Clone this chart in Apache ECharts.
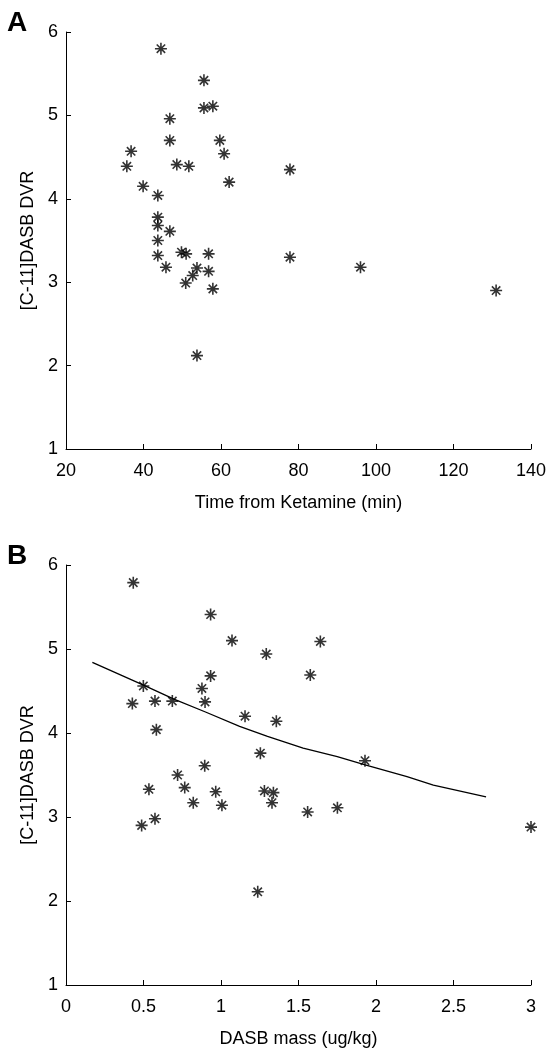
<!DOCTYPE html>
<html><head><meta charset="utf-8">
<script src="https://cdn.jsdelivr.net/npm/echarts@6/dist/echarts.min.js"></script>
<style>html,body{margin:0;padding:0;background:#fff}#c{width:549px;height:1050px}</style>
</head><body><div id="c"></div>
<script>
// Panel A: time from ketamine (min) vs DVR
const timeA = [44.5,55.6,55.6,57.9,46.8,46.8,59.7,60.8,36.8,35.7,48.6,51.7,77.8,62.1,39.9,43.7,
  43.7,43.7,46.8,43.7,43.7,45.8,49.8,51.0,56.8,77.8,53.8,52.7,56.8,50.9,57.9,53.8,96.0,131.0];
const dvrA = [5.80,5.42,5.09,5.11,4.96,4.70,4.70,4.54,4.57,4.39,4.41,4.39,4.35,4.20,4.15,4.04,
  3.78,3.68,3.61,3.50,3.32,3.18,3.36,3.34,3.34,3.30,3.17,3.08,3.13,2.99,2.92,2.12,3.18,2.90];
// Panel B: DASB mass (ug/kg) vs DVR
const massB = [0.434,0.933,1.071,1.292,0.933,0.877,0.499,0.897,0.428,0.574,0.686,1.155,1.357,0.583,
  1.641,1.576,1.254,1.929,1.280,1.338,1.329,1.559,1.751,3.00,
  0.895,0.72,0.535,0.766,0.966,0.821,1.006,0.488,0.574,1.237];
const dvrB = [5.79,5.41,5.10,4.94,4.68,4.53,4.56,4.37,4.35,4.38,4.38,4.20,4.14,4.04,
  5.09,4.69,3.76,3.67,3.31,3.29,3.17,3.06,3.11,2.88,
  3.61,3.50,3.33,3.35,3.30,3.17,3.14,2.90,2.98,2.11];
// Fitted curve in panel B
const fitMass = [0.17,0.5,0.7,0.9,1.12,1.3,1.53,1.75,1.93,2.2,2.37,2.71];
const fitDvr  = [4.84,4.57,4.40,4.25,4.08,3.96,3.82,3.72,3.62,3.48,3.38,3.24];

const xTicksA = [20,140,20];
const xTicksB = [0,3,0.5];
const yTicks = [1,6,1];

const star = 'path://M0,-10L0,10M-10,0L10,0M-7,-7L7,7M-7,7L7,-7';
const font = 'Liberation Sans, Arial, Helvetica, sans-serif';

function yAxis(gi){
  return {gridIndex:gi,type:'value',min:yTicks[0],max:yTicks[1],interval:yTicks[2],
    name:'[C-11]DASB DVR',nameLocation:'middle',nameGap:29,
    nameTextStyle:{fontFamily:font,fontSize:18,color:'#000'},
    axisLine:{show:true,lineStyle:{color:'#000',width:1}},
    axisTick:{show:true,inside:true,length:5,lineStyle:{color:'#000'}},
    axisLabel:{fontFamily:font,fontSize:18,color:'#000',margin:8},
    splitLine:{show:false}};
}
function xAxis(gi,t,name){
  return {gridIndex:gi,type:'value',min:t[0],max:t[1],interval:t[2],
    name:name,nameLocation:'middle',nameGap:45,
    nameTextStyle:{fontFamily:font,fontSize:18,color:'#000'},
    axisLine:{show:true,onZero:false,lineStyle:{color:'#000',width:1}},
    axisTick:{show:true,inside:true,length:5,lineStyle:{color:'#000'}},
    axisLabel:{fontFamily:font,fontSize:18,color:'#000',margin:13,formatter:v=>String(v)},
    splitLine:{show:false}};
}
const starStyle = {color:'none',borderColor:'#000',borderWidth:1.6};
const chart = echarts.init(document.getElementById('c'),null,{renderer:'canvas'});
chart.setOption({
  animation:false,
  backgroundColor:'#fff',
  title:[
    {text:'A',left:2,top:4,textStyle:{fontFamily:font,fontSize:28,fontWeight:'bold',color:'#000'}},
    {text:'B',left:2,top:537,textStyle:{fontFamily:font,fontSize:28,fontWeight:'bold',color:'#000'}}
  ],
  grid:[
    {left:66,top:32,width:465,height:417},
    {left:66,top:565,width:465,height:420}
  ],
  xAxis:[
    xAxis(0,xTicksA,'Time from Ketamine (min)'),
    xAxis(1,xTicksB,'DASB mass (ug/kg)')
  ],
  yAxis:[yAxis(0),yAxis(1)],
  series:[
    {type:'scatter',xAxisIndex:0,yAxisIndex:0,symbol:star,symbolSize:12,
     itemStyle:starStyle,data:timeA.map((t,i)=>[t,dvrA[i]])},
    {type:'line',xAxisIndex:1,yAxisIndex:1,showSymbol:false,symbol:'none',
     lineStyle:{color:'#000',width:1.3},
     data:fitMass.map((m,i)=>[m,fitDvr[i]])},
    {type:'scatter',xAxisIndex:1,yAxisIndex:1,symbol:star,symbolSize:12,
     itemStyle:starStyle,data:massB.map((m,i)=>[m,dvrB[i]])}
  ]
});
</script></body></html>
